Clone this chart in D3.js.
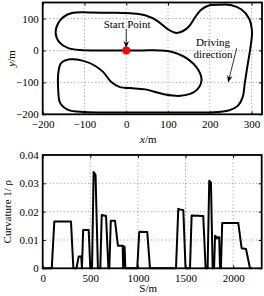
<!DOCTYPE html>
<html>
<head>
<meta charset="utf-8">
<script src="https://cdn.jsdelivr.net/npm/d3@7"></script>
<style>
  body { margin: 0; background: #fff; }
  svg text { font-family: "Liberation Serif", "Times New Roman", "DejaVu Serif", serif !important; }
</style>
</head>
<body>
<svg width="264" height="296"></svg>
<script>
var svg = d3.select("svg");

// track of the test course (x/m, y/m), in driving order from the start point
var trackX = [0, -60, -110, -140, -160, -169, -163, -150, -130, -90, -40, 10, 45, 75, 100, 118, 135, 150, 163, 178, 196, 220, 250, 276, 294, 301, 298, 290, 284, 279, 268, 245, 200, 100, 0, -100, -139, -158, -163, -162, -156, -135, -105, -75, -55, -35, -15, 10, 45, 90, 130, 165, 180, 173, 145, 110, 80, 40];
var trackY = [0, 0, 1, 8, 25, 54, 85, 105, 117, 119, 118, 116, 110, 92, 66, 55, 60, 75, 100, 126, 140, 143, 142, 128, 100, 60, 15, -50, -101, -145, -172, -188, -194, -194, -194, -193, -186, -165, -120, -65, -40, -28, -32, -48, -68, -100, -115, -118, -122, -137, -142, -128, -96, -62, -25, -5, 0, 0];

var xTicksTop = [-200, -100, 0, 100, 200, 300];
var yTicksTop = [-200, -100, 0, 100];

// curvature along the path
var arcS = [0, 95, 122, 297, 322, 355, 378, 405, 412, 425, 483, 500, 518, 535, 555, 580, 605, 620, 665, 690, 700, 715, 759, 790, 840, 845, 850, 860, 868, 993, 1014, 1098, 1127, 1400, 1424, 1440, 1477, 1500, 1547, 1564, 1686, 1711, 1732, 1749, 1767, 1785, 1800, 1810, 1825, 1830, 1840, 1854, 1862, 1872, 1885, 2054, 2089, 2135, 2177, 2200];
var curv = [0, 0, 0.0165, 0.0165, 0, 0, 0.0042, 0.0042, 0, 0.0135, 0.0135, 0, 0, 0.034, 0.033, 0, 0, 0.0188, 0.0185, 0, 0, 0.0168, 0.0168, 0.008, 0.008, 0, 0.0078, 0.0075, 0, 0, 0.0129, 0.0128, 0, 0, 0.021, 0.0208, 0.0205, 0, 0, 0.0186, 0.0185, 0, 0, 0.0309, 0.0302, 0, 0, 0.0115, 0.011, 0.0105, 0.011, 0.011, 0, 0, 0.016, 0.016, 0.0071, 0.0068, 0, 0];

var sTicks = [0, 500, 1000, 1500, 2000];
var kTicks = [0, 0.01, 0.02, 0.03, 0.04];

var serif = "Liberation Serif, Times New Roman, DejaVu Serif, serif";

// arrow head
svg.append("defs").append("marker")
    .attr("id", "head")
    .attr("viewBox", "0 0 10 10")
    .attr("refX", 9).attr("refY", 5)
    .attr("markerWidth", 7).attr("markerHeight", 7)
    .attr("markerUnits", "userSpaceOnUse")
    .attr("orient", "auto")
  .append("path")
    .attr("d", "M0,1 L10,5 L0,9 L3,5 Z")
    .attr("fill", "black");

function frame(g, x, y, xt, yt, fmtX, fmtY) {
  var x0 = x.range()[0], xe = x.range()[1], y0 = y.range()[0], ye = y.range()[1];
  // dotted grid
  g.append("g").selectAll("line").data(xt.filter(function(d){ return x(d) > x0 + 1 && x(d) < xe - 1; }))
    .enter().append("line")
      .attr("x1", function(d){ return x(d); }).attr("x2", function(d){ return x(d); })
      .attr("y1", y0).attr("y2", ye)
      .attr("stroke", "#777").attr("stroke-width", 0.8).attr("stroke-dasharray", "1,2.5");
  g.append("g").selectAll("line").data(yt.filter(function(d){ return y(d) < y0 - 1 && y(d) > ye + 1; }))
    .enter().append("line")
      .attr("y1", function(d){ return y(d); }).attr("y2", function(d){ return y(d); })
      .attr("x1", x0).attr("x2", xe)
      .attr("stroke", "#777").attr("stroke-width", 0.8).attr("stroke-dasharray", "1,2.5");

  var ax = [
    d3.axisBottom(x).tickValues(xt).tickSizeInner(-3).tickSizeOuter(0).tickPadding(5.5).tickFormat(fmtX),
    d3.axisLeft(y).tickValues(yt).tickSizeInner(-3).tickSizeOuter(0).tickPadding(4).tickFormat(fmtY),
    d3.axisTop(x).tickValues(xt).tickSizeInner(-3).tickSizeOuter(0).tickFormat(""),
    d3.axisRight(y).tickValues(yt).tickSizeInner(-3).tickSizeOuter(0).tickFormat("")
  ];
  var tr = ["translate(0," + y0 + ")", "translate(" + x0 + ",0)", "translate(0," + ye + ")", "translate(" + xe + ",0)"];
  ax.forEach(function(a, i) {
    var ga = g.append("g").attr("transform", tr[i]).call(a);
    ga.attr("font-family", serif);
    ga.select(".domain").remove();
    ga.selectAll("line").attr("stroke", "black");
    ga.selectAll("text").attr("font-size", 11).attr("fill", "black");
  });
}

// ---------- top: track ----------
var xT = d3.scaleLinear().domain([-200, 325]).range([42.7, 262]);
var yT = d3.scaleLinear().domain([-200, 150]).range([114.3, 2.5]);
var topG = svg.append("g").attr("font-family", serif);
frame(topG, xT, yT, xTicksTop, yTicksTop, null, null);

var trackLine = d3.line()
    .x(function(d, i){ return xT(trackX[i]); })
    .y(function(d, i){ return yT(trackY[i]); })
    .curve(d3.curveCatmullRomClosed.alpha(0.5));
topG.append("path")
    .datum(trackX)
    .attr("d", trackLine)
    .attr("fill", "none").attr("stroke", "black").attr("stroke-width", 2);

topG.append("rect")
    .attr("x", xT(-200)).attr("y", yT(150))
    .attr("width", xT(325) - xT(-200)).attr("height", yT(-200) - yT(150))
    .attr("fill", "none").attr("stroke", "black").attr("stroke-width", 1.8);

// start point
topG.append("text").attr("x", xT(2)).attr("y", 28).attr("text-anchor", "middle")
    .attr("font-size", 11).text("Start Point");
topG.append("line").attr("x1", xT(0)).attr("x2", xT(0)).attr("y1", 29).attr("y2", yT(0) - 3)
    .attr("stroke", "black").attr("stroke-width", 0.8).attr("marker-end", "url(#head)");
topG.append("circle").attr("cx", xT(0)).attr("cy", yT(0)).attr("r", 4).attr("fill", "#ff0000");

// driving direction
topG.append("text").attr("x", 213).attr("y", 45.5).attr("text-anchor", "middle")
    .attr("font-size", 11).text("Driving");
topG.append("text").attr("x", 213).attr("y", 57.5).attr("text-anchor", "middle")
    .attr("font-size", 11).text("direction");
topG.append("line").attr("x1", 236.7).attr("y1", 48.3).attr("x2", 228.3).attr("y2", 81.7)
    .attr("stroke", "black").attr("stroke-width", 0.8).attr("marker-end", "url(#head)");

topG.append("text").attr("x", (xT(-200) + xT(325)) / 2 - 4).attr("y", 142.5)
    .attr("text-anchor", "middle").attr("font-size", 11)
    .html('<tspan font-style="italic">x</tspan>/m');
topG.append("text").attr("transform", "translate(15," + yT(-25) + ") rotate(-90)")
    .attr("text-anchor", "middle").attr("font-size", 11)
    .html('<tspan font-style="italic">y</tspan>/m');

// ---------- bottom: curvature ----------
var xB = d3.scaleLinear().domain([0, 2300]).range([42.7, 261.7]);
var yB = d3.scaleLinear().domain([0, 0.04]).range([268.3, 155]);
var botG = svg.append("g").attr("font-family", serif);
frame(botG, xB, yB, sTicks, kTicks, d3.format("d"),
      function(d){ return d === 0 ? "0" : d3.format(".2f")(d); });

botG.append("path")
    .datum(arcS)
    .attr("d", d3.line()
        .x(function(d){ return xB(d); })
        .y(function(d, i){ return yB(curv[i]); }))
    .attr("fill", "none").attr("stroke", "black").attr("stroke-width", 2)
    .attr("stroke-linejoin", "round");

botG.append("rect")
    .attr("x", xB(0)).attr("y", yB(0.04))
    .attr("width", xB(2300) - xB(0)).attr("height", yB(0) - yB(0.04))
    .attr("fill", "none").attr("stroke", "black").attr("stroke-width", 1.8);

botG.append("text").attr("x", (xB(0) + xB(2300)) / 2 - 4).attr("y", 292)
    .attr("text-anchor", "middle").attr("font-size", 11).text("S/m");
botG.append("text").attr("transform", "translate(11," + (yB(0.02)) + ") rotate(-90)")
    .attr("text-anchor", "middle").attr("font-size", 11).text("Curvature 1/ \u03c1");
</script>
</body>
</html>
